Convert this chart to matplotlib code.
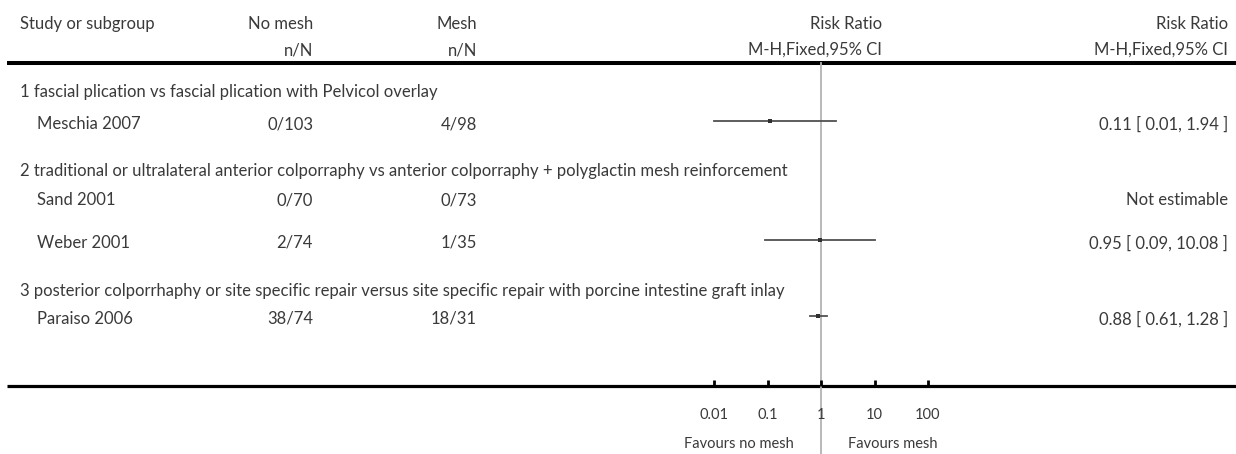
import numpy as np
import matplotlib
matplotlib.use("Agg")
import matplotlib.pyplot as plt

plt.rcParams['font.family'] = ['Lato', 'DejaVu Sans']

# ---- data -------------------------------------------------------------
subgroups = [
    "1 fascial plication vs fascial plication with Pelvicol overlay",
    "2 traditional or ultralateral anterior colporraphy vs anterior colporraphy + polyglactin mesh reinforcement",
    "3 posterior colporrhaphy or site specific repair versus site specific repair with porcine intestine graft inlay",
]
study_names = ["Meschia 2007", "Sand 2001", "Weber 2001", "Paraiso 2006"]
study_group = [0, 1, 1, 2]
no_mesh = ["0/103", "0/70", "2/74", "38/74"]
mesh = ["4/98", "0/73", "1/35", "18/31"]
rr = [0.11, None, 0.95, 0.88]
ci_low = [0.01, None, 0.09, 0.61]
ci_high = [1.94, None, 10.08, 1.28]
tick_values = [0.01, 0.1, 1, 10, 100]
tick_labels = ["0.01", "0.1", "1", "10", "100"]
favours_left = "Favours no mesh"
favours_right = "Favours mesh"

# ---- layout (pixel rows) ---------------------------------------------
W, H = 1236, 454
TXT = "#3a3a3a"
FS = 12
FS_SMALL = 10.5
fig = plt.figure(figsize=(W / 100, H / 100), dpi=100)

bg = fig.add_axes([0, 0, 1, 1])
bg.set_xlim(0, W)
bg.set_ylim(H, 0)
bg.axis("off")

header_y = [24, 50]
rule_top, rule_bottom = 63, 386
x_name, x_study = 20, 37
x_nomesh, x_mesh, x_rr, x_val = 313, 477, 882, 1228

# header
bg.text(x_name, header_y[0], "Study or subgroup", ha="left", va="center", fontsize=FS, color=TXT)
for x, a, b in [(x_nomesh, "No mesh", "n/N"), (x_mesh, "Mesh", "n/N"),
                (x_rr, "Risk Ratio", "M-H,Fixed,95% CI"),
                (x_val, "Risk Ratio", "M-H,Fixed,95% CI")]:
    bg.text(x, header_y[0], a, ha="right", va="center", fontsize=FS, color=TXT)
    bg.text(x, header_y[1], b, ha="right", va="center", fontsize=FS, color=TXT)

bg.plot([7, W], [rule_top, rule_top], color="black", lw=2.9, solid_capstyle="butt")
bg.plot([7, W], [rule_bottom, rule_bottom], color="black", lw=2.3, solid_capstyle="butt")

# row positions
sub_y = [92, 171, 291]
study_y = [121, 200, 240, 316]

for s, y in zip(subgroups, sub_y):
    bg.text(x_name, y, s, ha="left", va="center", fontsize=FS, color=TXT)

# forest panel on a log scale: 1 decade ~ 53.5 px, centred on x = 821 px
left_px, right_px = 660.5, 981.5
fx = fig.add_axes([left_px / W, (H - rule_bottom) / H,
                   (right_px - left_px) / W, (rule_bottom - rule_top) / H])
fx.set_xscale("log")
fx.set_xlim(1e-3, 1e3)
fx.set_ylim(rule_bottom, rule_top)
fx.patch.set_alpha(0)
for sp in fx.spines.values():
    sp.set_visible(False)
fx.set_yticks([])
fx.set_xticks(tick_values)
fx.set_xticklabels(tick_labels)
fx.xaxis.set_minor_locator(matplotlib.ticker.NullLocator())
fx.tick_params(axis="x", direction="in", length=4, width=2, color="black",
               pad=15.5, labelsize=FS_SMALL, labelcolor=TXT)

# line of no effect
fx.plot([1, 1], [rule_top, H], color="#b3b3b3", lw=1.3, clip_on=False, zorder=1)

for i, y in enumerate(study_y):
    tx_y = y + 3 if rr[i] is not None else y
    bg.text(x_study, tx_y, study_names[i], ha="left", va="center", fontsize=FS, color=TXT)
    bg.text(x_nomesh, tx_y, no_mesh[i], ha="right", va="center", fontsize=FS, color=TXT)
    bg.text(x_mesh, tx_y, mesh[i], ha="right", va="center", fontsize=FS, color=TXT)
    if rr[i] is None:
        bg.text(x_val, tx_y, "Not estimable", ha="right", va="center", fontsize=FS, color=TXT)
        continue
    bg.text(x_val, tx_y, f"{rr[i]:.2f} [ {ci_low[i]:.2f}, {ci_high[i]:.2f} ]",
            ha="right", va="center", fontsize=FS, color=TXT)
    fx.plot([ci_low[i], ci_high[i]], [y, y], color="#505050", lw=1.3, zorder=2)
    fx.plot([rr[i]], [y], marker="s", ms=2.2, color="#303030", mew=0, zorder=3)

fx.text(0.313, H - 10, favours_left, ha="right", va="center",
        fontsize=FS_SMALL, color=TXT, clip_on=False)
fx.text(3.2, H - 10, favours_right, ha="left", va="center",
        fontsize=FS_SMALL, color=TXT, clip_on=False)

fig.savefig("out.png", dpi=100, facecolor="white")
